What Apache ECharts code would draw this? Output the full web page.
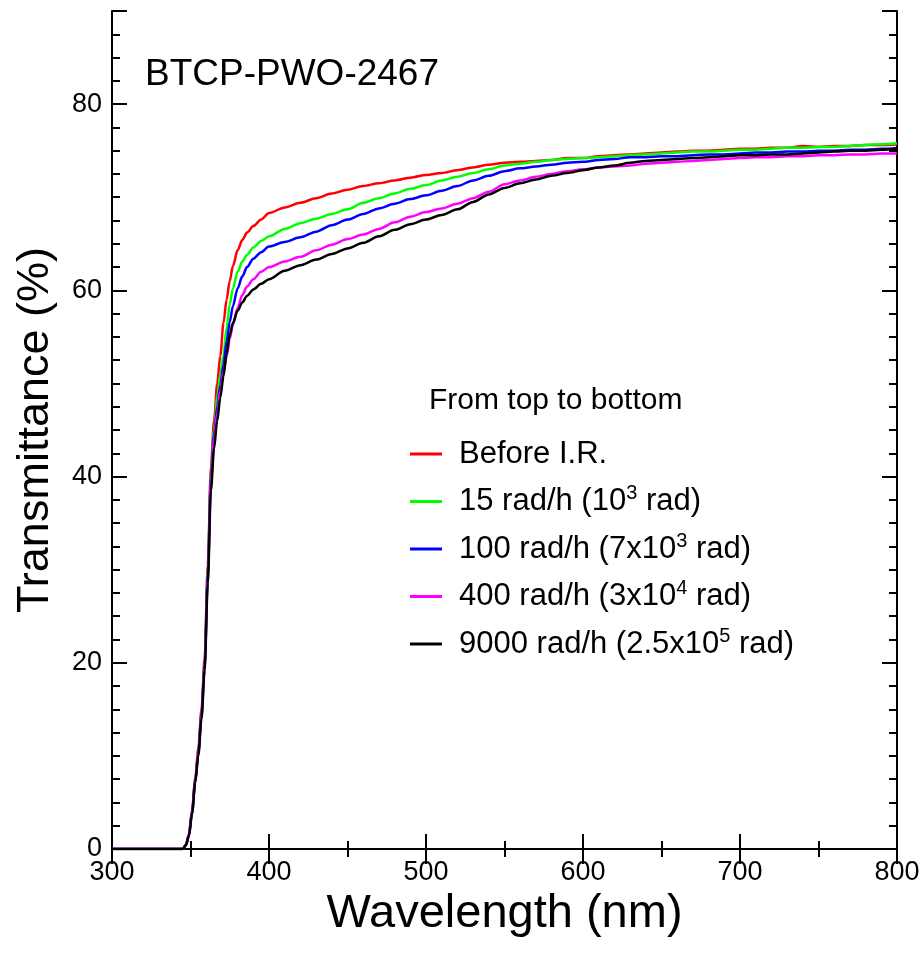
<!DOCTYPE html>
<html>
<head>
<meta charset="utf-8">
<script src="https://cdn.jsdelivr.net/npm/echarts@6/dist/echarts.min.js"></script>
<style>html,body{margin:0;padding:0;background:#fff;}#c{width:922px;height:954px;}</style>
</head>
<body>
<div id="c"></div>
<script>
const wavelength = [300,340,345,347,349,351,353,355,357,359,361,363,365,367,369,371,373,375,377,380,383,386,390,395,400,410,420,430,440,450,460,470,480,490,500,510,520,530,540,550,560,570,580,590,600,610,620,630,640,650,660,670,680,690,700,710,720,730,740,750,760,770,780,790,800];

const beforeIR = [0,0,0,0.4,1.6,4.2,7.6,10.8,15,20.5,30.5,41,46,50,53,56.5,59,61,62.6,64.3,65.4,66.2,66.9,67.6,68.3,68.9,69.4,69.9,70.4,70.8,71.2,71.5,71.8,72.1,72.4,72.6,72.9,73.2,73.5,73.7,73.8,73.9,74.0,74.2,74.2,74.4,74.5,74.6,74.7,74.8,74.9,75.0,75.0,75.1,75.2,75.2,75.3,75.3,75.5,75.4,75.5,75.5,75.6,75.6,75.7];
const rad15 = [0,0,0,0.4,1.5,4.0,7.4,10.5,14.6,20,30,40.5,45,48.5,51,53,56,58.5,60.2,62,63.1,63.8,64.6,65.3,65.8,66.6,67.2,67.7,68.2,68.7,69.4,69.9,70.4,70.9,71.3,71.8,72.2,72.6,73.0,73.4,73.6,73.8,74.0,74.1,74.2,74.3,74.4,74.5,74.6,74.7,74.8,74.9,74.9,75.0,75.1,75.1,75.2,75.3,75.3,75.4,75.4,75.5,75.6,75.7,75.8];
const rad100 = [0,0,0,0.4,1.5,4.0,7.3,10.4,14.5,19.8,29.5,40,44.5,47.5,49.8,52,54.5,56.6,58.3,60.2,61.5,62.5,63.4,64.1,64.7,65.2,65.7,66.3,67.0,67.6,68.2,68.8,69.3,69.8,70.2,70.7,71.2,71.8,72.3,72.8,73.1,73.3,73.5,73.7,73.8,74.0,74.1,74.3,74.3,74.4,74.4,74.5,74.6,74.6,74.7,74.8,74.8,74.9,74.9,75.0,75.0,75.1,75.1,75.2,75.3];
const rad400 = [0,0,0,0.4,1.4,3.9,7.2,10.3,14.3,19.5,29,39.5,44,46.8,49.2,51.2,52.9,54.8,56.3,58.1,59.5,60.4,61.2,62.0,62.5,63.1,63.6,64.3,64.9,65.5,66.0,66.6,67.3,67.9,68.4,68.8,69.3,69.9,70.6,71.4,71.8,72.2,72.5,72.8,73.0,73.2,73.3,73.4,73.6,73.7,73.8,73.9,74.0,74.1,74.2,74.3,74.3,74.4,74.4,74.5,74.5,74.6,74.6,74.7,74.7];
const rad9000 = [0,0,0,0.4,1.4,3.8,7.1,10.1,14,19.2,28.5,38.5,43,46,48.5,50.8,53.2,55.2,56.5,57.8,58.7,59.4,60.1,60.7,61.2,62.1,62.7,63.3,63.9,64.5,65.1,65.8,66.5,67.1,67.6,68.1,68.7,69.5,70.3,71.0,71.5,71.9,72.3,72.6,72.9,73.2,73.4,73.7,73.9,74.0,74.1,74.2,74.3,74.4,74.5,74.5,74.6,74.6,74.7,74.8,74.9,75.0,75.0,75.1,75.2];

const seriesNames = ['Before I.R.','15 rad/h (10^3 rad)','100 rad/h (7x10^3 rad)','400 rad/h (3x10^4 rad)','9000 rad/h (2.5x10^5 rad)'];
const legendLabels = ['Before I.R.','15 rad/h (10{sup|3} rad)','100 rad/h (7x10{sup|3} rad)','400 rad/h (3x10{sup|4} rad)','9000 rad/h (2.5x10{sup|5} rad)'];
const seriesValues = [beforeIR, rad15, rad100, rad400, rad9000];
const seriesColors = ['#ff0000','#00ff00','#0000ff','#ff00ff','#000000'];

const xTicks = {min:300, max:800, interval:100};
const yMajor = {min:0, max:90, interval:20};
const yMinorInterval = 2.5;

const FONT = 'Liberation Sans, Arial, Helvetica, sans-serif';
const blk = '#000';

const chart = echarts.init(document.getElementById('c'), null, {renderer:'canvas'});

const axisLineStyle = {show:true, lineStyle:{color:blk, width:2}};
const tickStyle = {color:blk, width:2};

const option = {
  animation:false,
  backgroundColor:'#fff',
  textStyle:{fontFamily:FONT, color:blk},
  title:[
    {text:'BTCP-PWO-2467', left:145, top:56, padding:0,
     textStyle:{fontFamily:FONT, fontSize:37, fontWeight:'normal', color:blk}},
    {text:'From top to bottom', left:429, top:386, padding:0,
     textStyle:{fontFamily:FONT, fontSize:30, fontWeight:'normal', color:blk}}
  ],
  grid:{left:112, right:25, top:11, bottom:105, containLabel:false, outerBoundsMode:'none'},
  legend:{
    orient:'vertical', left:410, top:436, padding:0, itemGap:11.5,
    itemWidth:32, itemHeight:3, icon:'rect',
    data:seriesNames,
    formatter:function(name){ return legendLabels[seriesNames.indexOf(name)]; },
    textStyle:{fontFamily:FONT, fontSize:31, lineHeight:36, color:blk, padding:[0,0,0,12],
      rich:{sup:{fontFamily:FONT, fontSize:20, lineHeight:19, verticalAlign:'top', color:blk}}}
  },
  xAxis:[
    {type:'value', position:'bottom', min:xTicks.min, max:xTicks.max, interval:xTicks.interval,
     name:'Wavelength (nm)', nameLocation:'middle', nameGap:42,
     nameTextStyle:{fontFamily:FONT, fontSize:47, color:blk},
     axisLine:axisLineStyle,
     axisTick:{show:true, inside:true, length:15, lineStyle:tickStyle},
     minorTick:{show:true, splitNumber:2, length:8, lineStyle:tickStyle},
     axisLabel:{fontFamily:FONT, fontSize:27, color:blk, margin:10},
     splitLine:{show:false}},
    {type:'value', position:'top', min:xTicks.min, max:xTicks.max, interval:xTicks.interval,
     axisLine:axisLineStyle,
     axisTick:{show:true, inside:true, length:15, lineStyle:tickStyle},
     minorTick:{show:true, splitNumber:2, length:8, lineStyle:tickStyle},
     axisLabel:{show:false}, splitLine:{show:false}}
  ],
  yAxis:[
    {type:'value', position:'left', min:yMajor.min, max:yMajor.max, interval:yMinorInterval,
     name:'Transmittance (%)', nameLocation:'middle', nameGap:54,
     nameTextStyle:{fontFamily:FONT, fontSize:45, color:blk},
     axisLine:axisLineStyle,
     axisTick:{show:true, inside:true, length:8, lineStyle:tickStyle},
     axisLabel:{fontFamily:FONT, fontSize:27, color:blk, margin:10,
       formatter:function(v){ return (Math.abs(v % yMajor.interval) < 1e-6 && v <= 80) ? String(v) : ''; }},
     splitLine:{show:false}},
    {type:'value', position:'left', min:yMajor.min, max:yMajor.max, interval:yMajor.interval,
     axisLine:{show:false},
     axisTick:{show:true, inside:true, length:15, lineStyle:tickStyle},
     axisLabel:{show:false}, splitLine:{show:false}},
    {type:'value', position:'right', min:yMajor.min, max:yMajor.max, interval:yMinorInterval,
     axisLine:axisLineStyle,
     axisTick:{show:true, inside:true, length:8, lineStyle:tickStyle},
     axisLabel:{show:false}, splitLine:{show:false}},
    {type:'value', position:'right', min:yMajor.min, max:yMajor.max, interval:yMajor.interval,
     axisLine:{show:false},
     axisTick:{show:true, inside:true, length:15, lineStyle:tickStyle},
     axisLabel:{show:false}, splitLine:{show:false}}
  ],
  series: seriesNames.map(function(name, i){
    return {
      name:name, type:'line', xAxisIndex:0, yAxisIndex:0,
      showSymbol:false, symbol:'none', smooth:0.3, smoothMonotone:'x',
      lineStyle:{color:seriesColors[i], width:2.5},
      itemStyle:{color:seriesColors[i]},
      emphasis:{disabled:true},
      data: wavelength.map(function(w, j){ return [w, seriesValues[i][j]]; })
    };
  })
};
chart.setOption(option);
</script>
</body>
</html>
